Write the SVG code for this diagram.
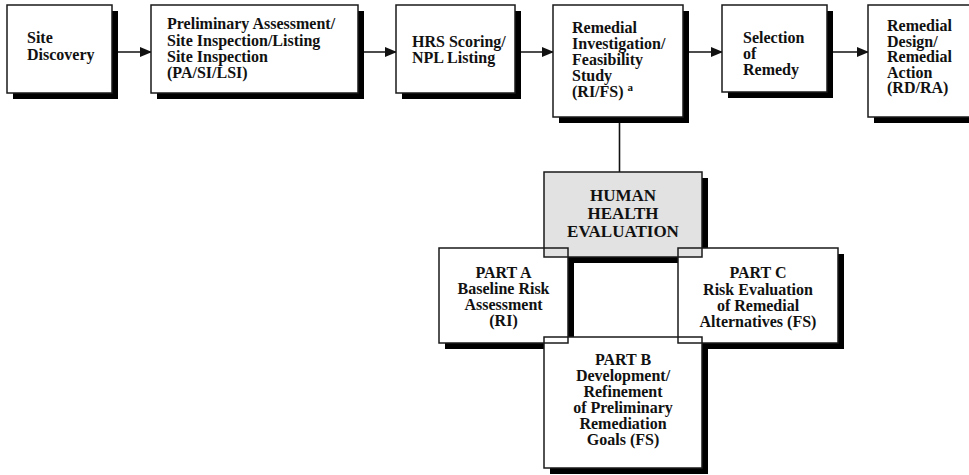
<svg xmlns="http://www.w3.org/2000/svg" width="969" height="475" viewBox="0 0 969 475">
<defs>
<marker id="ah" markerWidth="12" markerHeight="10" refX="11" refY="5" orient="auto" markerUnits="userSpaceOnUse">
<path d="M0,0 L12,5 L0,10 Z" fill="#111"/>
</marker>
<style>
.sh{fill:#000;}
.bx{fill:#fff;stroke:none;}
.gr{fill:#e2e2e2;stroke:none;}
.ol{fill:none;stroke:#1a1a1a;stroke-width:1.5;}
.t{font-family:"Liberation Serif","Times New Roman",serif;font-weight:bold;font-size:16px;fill:#111;}
.c{text-anchor:middle;}
.hh{font-size:17px;}
.sup{font-size:11px;}
.cn{stroke:#111;stroke-width:1.6;fill:none;}
</style>
</defs>
<rect width="969" height="475" fill="#fff"/>

<g id="connectors">
<line class="cn" x1="112" y1="52" x2="151" y2="52" marker-end="url(#ah)"/>
<line class="cn" x1="358" y1="52" x2="396" y2="52" marker-end="url(#ah)"/>
<line class="cn" x1="515" y1="52" x2="553" y2="52" marker-end="url(#ah)"/>
<line class="cn" x1="683" y1="52" x2="722" y2="52" marker-end="url(#ah)"/>
<line class="cn" x1="827" y1="52" x2="868" y2="52" marker-end="url(#ah)"/>
<line class="cn" x1="619.5" y1="117" x2="619.5" y2="172"/>
</g>

<g id="site-discovery">
<rect class="sh" x="13" y="11" width="105" height="88"/>
<rect class="bx" x="7" y="5" width="105" height="88"/>
<rect class="ol" x="7" y="5" width="105" height="88"/>
<text class="t" x="27" y="43">Site</text>
<text class="t" x="27" y="60">Discovery</text>
</g>

<g id="pa-si">
<rect class="sh" x="157" y="11" width="207" height="88"/>
<rect class="bx" x="151" y="5" width="207" height="88"/>
<rect class="ol" x="151" y="5" width="207" height="88"/>
<text class="t" x="167" y="29">Preliminary Assessment/</text>
<text class="t" x="167" y="45.5">Site Inspection/Listing</text>
<text class="t" x="167" y="62">Site Inspection</text>
<text class="t" x="167" y="78">(PA/SI/LSI)</text>
</g>

<g id="hrs">
<rect class="sh" x="402" y="11" width="119" height="88"/>
<rect class="bx" x="396" y="5" width="119" height="88"/>
<rect class="ol" x="396" y="5" width="119" height="88"/>
<text class="t" x="412" y="47">HRS Scoring/</text>
<text class="t" x="412" y="63">NPL Listing</text>
</g>

<g id="ri-fs">
<rect class="sh" x="559" y="11" width="130" height="112"/>
<rect class="bx" x="553" y="5" width="130" height="112"/>
<rect class="ol" x="553" y="5" width="130" height="112"/>
<text class="t" x="572" y="33">Remedial</text>
<text class="t" x="572" y="49">Investigation/</text>
<text class="t" x="572" y="65">Feasibility</text>
<text class="t" x="572" y="81">Study</text>
<text class="t" x="572" y="97">(RI/FS) <tspan class="sup" dy="-6">a</tspan></text>
</g>

<g id="selection">
<rect class="sh" x="728" y="11" width="105" height="87"/>
<rect class="bx" x="722" y="5" width="105" height="87"/>
<rect class="ol" x="722" y="5" width="105" height="87"/>
<text class="t" x="743" y="43">Selection</text>
<text class="t" x="743" y="59">of</text>
<text class="t" x="743" y="75">Remedy</text>
</g>

<g id="rd-ra">
<rect class="sh" x="874" y="11" width="110" height="112"/>
<rect class="bx" x="868" y="5" width="110" height="112"/>
<rect class="ol" x="868" y="5" width="110" height="112"/>
<text class="t" x="887" y="31">Remedial</text>
<text class="t" x="887" y="46.5">Design/</text>
<text class="t" x="887" y="62">Remedial</text>
<text class="t" x="887" y="77.5">Action</text>
<text class="t" x="887" y="93">(RD/RA)</text>
</g>

<g id="evaluation-cluster">
<g id="shadows">
<rect class="sh" x="550" y="178" width="158" height="85"/>
<rect class="sh" x="445" y="254" width="129" height="95"/>
<rect class="sh" x="684" y="254" width="160" height="95"/>
<rect class="sh" x="550" y="343" width="158" height="131"/>
</g>
<g id="fills">
<rect class="bx" x="439" y="248" width="129" height="95"/>
<rect class="bx" x="678" y="248" width="160" height="95"/>
<rect class="bx" x="544" y="337" width="158" height="131"/>
<rect class="gr" x="544" y="172" width="158" height="85"/>
</g>
<g id="human-health">
<rect class="ol" x="544" y="172" width="158" height="85"/>
<text class="t hh c" x="623" y="201">HUMAN</text>
<text class="t hh c" x="623" y="219">HEALTH</text>
<text class="t hh c" x="623" y="237">EVALUATION</text>
</g>
<g id="part-a">
<rect class="ol" x="439" y="248" width="129" height="95"/>
<text class="t c" x="503.5" y="278">PART A</text>
<text class="t c" x="503.5" y="294">Baseline Risk</text>
<text class="t c" x="503.5" y="310">Assessment</text>
<text class="t c" x="503.5" y="326">(RI)</text>
</g>
<g id="part-c">
<rect class="ol" x="678" y="248" width="160" height="95"/>
<text class="t c" x="758" y="278">PART C</text>
<text class="t c" x="758" y="295">Risk Evaluation</text>
<text class="t c" x="758" y="311">of Remedial</text>
<text class="t c" x="758" y="327">Alternatives (FS)</text>
</g>
<g id="part-b">
<rect class="ol" x="544" y="337" width="158" height="131"/>
<text class="t c" x="623" y="365">PART B</text>
<text class="t c" x="623" y="381">Development/</text>
<text class="t c" x="623" y="397">Refinement</text>
<text class="t c" x="623" y="413">of Preliminary</text>
<text class="t c" x="623" y="429">Remediation</text>
<text class="t c" x="623" y="445">Goals (FS)</text>
</g>
</g>
</svg>
